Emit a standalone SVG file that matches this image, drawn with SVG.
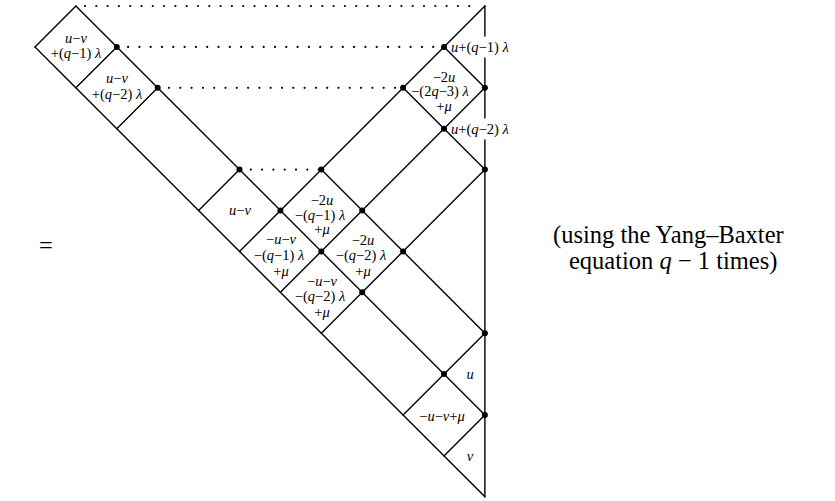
<svg xmlns="http://www.w3.org/2000/svg" width="835" height="501" viewBox="0 0 835 501">
<style>
.ln{stroke:#000;stroke-width:1.4;fill:none;stroke-linecap:round}
.dt{stroke:#000;stroke-width:2.2;fill:none;stroke-linecap:round;stroke-dasharray:0 11.3}
.lab{font-family:"Liberation Serif","Times New Roman",serif;font-size:14.5px;fill:#000;text-anchor:middle}
.lr{font-family:"Liberation Serif","Times New Roman",serif;font-size:14.5px;fill:#000}
.i{font-style:italic}
.big{font-family:"Liberation Serif","Times New Roman",serif;font-size:24.5px;fill:#000}
</style>
<defs><circle id="d" r="3" fill="#000"/></defs>
<rect width="835" height="501" fill="#fff"/>
<g id="connectors">
<path class="ln" d="M35,46.9L484.9,496.8M75.9,6L484.9,415M321.3,169.6L484.9,333.2M403.1,87.8L484.9,169.6M444,46.9L484.9,87.8"/>
<path class="ln" d="M35,46.9L75.9,6M75.9,87.8L116.8,46.9M116.8,128.7L157.7,87.8M198.6,210.5L239.5,169.6M239.5,251.4L484.9,6M280.4,292.3L484.9,87.8M321.3,333.2L484.9,169.6M403.1,415L484.9,333.2M444,455.9L484.9,415"/>
<path class="ln" d="M484.9,6L484.9,36M484.9,58L484.9,118M484.9,140L484.9,496.8"/>
<path class="dt" d="M85,6L480,6M116.8,46.9L444,46.9M157.7,87.8L403.1,87.8M239.5,169.6L321.3,169.6"/>
</g>
<g id="dots">
<use href="#d" x="116.8" y="46.9"/><use href="#d" x="157.7" y="87.8"/><use href="#d" x="239.5" y="169.6"/><use href="#d" x="321.3" y="169.6"/>
<use href="#d" x="444" y="46.9"/><use href="#d" x="403.1" y="87.8"/><use href="#d" x="484.9" y="87.8"/><use href="#d" x="444" y="128.7"/>
<use href="#d" x="484.9" y="169.6"/><use href="#d" x="280.4" y="210.5"/><use href="#d" x="362.2" y="210.5"/><use href="#d" x="321.3" y="251.4"/>
<use href="#d" x="403.1" y="251.4"/><use href="#d" x="362.2" y="292.3"/><use href="#d" x="444" y="374.1"/><use href="#d" x="484.9" y="333.2"/><use href="#d" x="484.9" y="415"/>
</g>
<g id="cell-uv-q1"><text class="lab" x="76" y="43"><tspan class="i">u</tspan>−<tspan class="i">v</tspan></text><text class="lab" x="76" y="58">+(<tspan class="i">q</tspan>−1) <tspan class="i">λ</tspan></text></g>
<g id="cell-uv-q2"><text class="lab" x="117" y="83"><tspan class="i">u</tspan>−<tspan class="i">v</tspan></text><text class="lab" x="117" y="99">+(<tspan class="i">q</tspan>−2) <tspan class="i">λ</tspan></text></g>
<g id="cell-uv"><text class="lab" x="240" y="215"><tspan class="i">u</tspan>−<tspan class="i">v</tspan></text></g>
<g id="cell-2u-2q3"><text class="lab" x="444" y="81.5">−2<tspan class="i">u</tspan></text><text class="lab" x="440" y="96">−(2<tspan class="i">q</tspan>−3) <tspan class="i">λ</tspan></text><text class="lab" x="444" y="111">+<tspan class="i">μ</tspan></text></g>
<g id="cell-2u-q1"><text class="lab" x="322" y="205">−2<tspan class="i">u</tspan></text><text class="lab" x="320" y="219.5">−(<tspan class="i">q</tspan>−1) <tspan class="i">λ</tspan></text><text class="lab" x="322" y="234">+<tspan class="i">μ</tspan></text></g>
<g id="cell-uv-mu-q1"><text class="lab" x="281" y="244">−<tspan class="i">u</tspan>−<tspan class="i">v</tspan></text><text class="lab" x="279" y="260">−(<tspan class="i">q</tspan>−1) <tspan class="i">λ</tspan></text><text class="lab" x="281" y="275.5">+<tspan class="i">μ</tspan></text></g>
<g id="cell-2u-q2"><text class="lab" x="363" y="245">−2<tspan class="i">u</tspan></text><text class="lab" x="361" y="260">−(<tspan class="i">q</tspan>−2) <tspan class="i">λ</tspan></text><text class="lab" x="363" y="275.5">+<tspan class="i">μ</tspan></text></g>
<g id="cell-uv-mu-q2"><text class="lab" x="322" y="286">−<tspan class="i">u</tspan>−<tspan class="i">v</tspan></text><text class="lab" x="320" y="301">−(<tspan class="i">q</tspan>−2) <tspan class="i">λ</tspan></text><text class="lab" x="322" y="316.5">+<tspan class="i">μ</tspan></text></g>
<g id="label-q1"><text class="lr" x="451" y="51.5"><tspan class="i">u</tspan>+(<tspan class="i">q</tspan>−1) <tspan class="i">λ</tspan></text></g>
<g id="label-q2"><text class="lr" x="451" y="133.5"><tspan class="i">u</tspan>+(<tspan class="i">q</tspan>−2) <tspan class="i">λ</tspan></text></g>
<g id="cell-u"><text class="lab" x="470" y="379"><tspan class="i">u</tspan></text></g>
<g id="cell-uvmu"><text class="lab" x="442" y="421">−<tspan class="i">u</tspan>−<tspan class="i">v</tspan>+<tspan class="i">μ</tspan></text></g>
<g id="cell-v"><text class="lab" x="470" y="461"><tspan class="i">v</tspan></text></g>
<g id="equals"><text class="big" x="39" y="254">=</text></g>
<g id="note"><text class="big" x="553" y="243">(using the Yang–Baxter</text><text class="big" x="569" y="269">equation <tspan class="i">q</tspan> − 1 times)</text></g>
</svg>
